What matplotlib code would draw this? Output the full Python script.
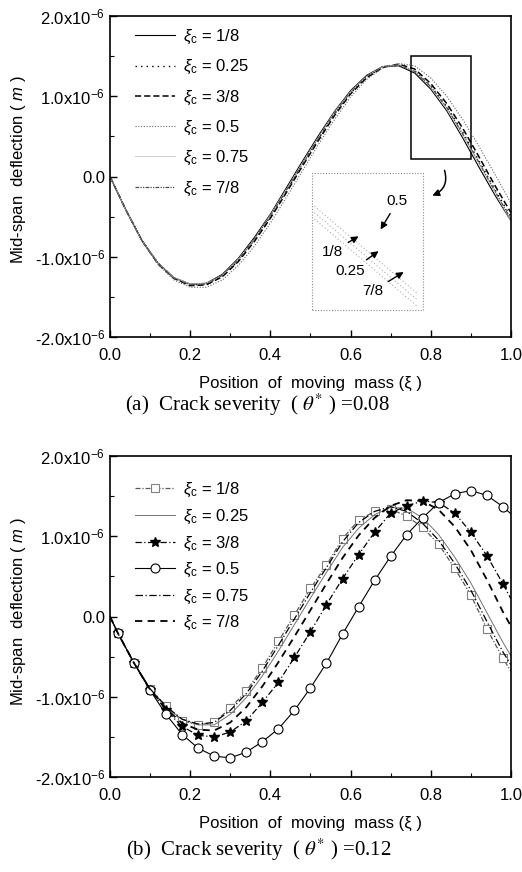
import numpy as np
import matplotlib
matplotlib.use('Agg')
from matplotlib import pyplot as plt
from matplotlib.patches import Rectangle, FancyArrowPatch

plt.rcParams['font.family'] = ['Liberation Sans', 'DejaVu Sans']
plt.rcParams['mathtext.fontset'] = 'custom'
plt.rcParams['mathtext.rm'] = 'Liberation Sans'
plt.rcParams['mathtext.it'] = 'Liberation Sans:italic'

# ---- data (deflection in units of 1e-6 m) ----
labels = ['1/8', '0.25', '3/8', '0.5', '0.75', '7/8']

# (a) crack severity 0.08
xa = [0.00, 0.04, 0.08, 0.12, 0.16, 0.20, 0.24, 0.28, 0.32, 0.36, 0.40, 0.44, 0.48,
      0.52, 0.56, 0.60, 0.64, 0.68, 0.72, 0.76, 0.80, 0.84, 0.88, 0.92, 0.96, 1.00]
a_18 = [0, -0.42, -0.80, -1.08, -1.26, -1.34, -1.33, -1.22, -1.02, -0.76, -0.47, -0.14, 0.19,
        0.51, 0.81, 1.07, 1.26, 1.37, 1.38, 1.29, 1.09, 0.82, 0.48, 0.12, -0.23, -0.55]
a_025 = [0, -0.42, -0.80, -1.08, -1.27, -1.35, -1.34, -1.24, -1.05, -0.79, -0.50, -0.18, 0.15,
         0.47, 0.78, 1.04, 1.24, 1.36, 1.39, 1.32, 1.13, 0.87, 0.55, 0.20, -0.16, -0.50]
a_38 = [0, -0.42, -0.80, -1.09, -1.27, -1.36, -1.35, -1.25, -1.06, -0.81, -0.52, -0.20, 0.13,
        0.45, 0.76, 1.03, 1.23, 1.36, 1.40, 1.34, 1.16, 0.91, 0.60, 0.25, -0.11, -0.45]
a_05 = [0, -0.42, -0.81, -1.10, -1.29, -1.38, -1.38, -1.29, -1.11, -0.87, -0.58, -0.26, 0.07,
        0.40, 0.71, 0.99, 1.21, 1.35, 1.41, 1.38, 1.23, 1.00, 0.71, 0.38, 0.03, -0.33]
a_075 = [0, -0.42, -0.80, -1.08, -1.26, -1.34, -1.33, -1.23, -1.03, -0.78, -0.48, -0.16, 0.17,
         0.49, 0.80, 1.06, 1.25, 1.37, 1.39, 1.31, 1.11, 0.84, 0.51, 0.16, -0.20, -0.55]
a_78 = [0, -0.42, -0.80, -1.08, -1.27, -1.35, -1.34, -1.23, -1.04, -0.78, -0.49, -0.17, 0.16,
        0.48, 0.79, 1.05, 1.25, 1.37, 1.39, 1.31, 1.12, 0.86, 0.53, 0.18, -0.18, -0.53]

# (b) crack severity 0.12
xb = [0.00, 0.02, 0.06, 0.10, 0.14, 0.18, 0.22, 0.26, 0.30, 0.34, 0.38, 0.42, 0.46, 0.50,
      0.54, 0.58, 0.62, 0.66, 0.70, 0.74, 0.78, 0.82, 0.86, 0.90, 0.94, 0.98, 1.00]
b_18 = [0, -0.21, -0.58, -0.90, -1.12, -1.30, -1.35, -1.32, -1.14, -0.93, -0.64, -0.31, 0.02, 0.35,
        0.64, 0.97, 1.20, 1.31, 1.34, 1.25, 1.11, 0.90, 0.60, 0.27, -0.15, -0.52, -0.68]
b_025 = [0, -0.21, -0.58, -0.90, -1.13, -1.28, -1.35, -1.35, -1.22, -1.01, -0.74, -0.43, -0.10, 0.23,
         0.55, 0.86, 1.10, 1.27, 1.36, 1.35, 1.23, 1.02, 0.74, 0.42, 0.05, -0.32, -0.49]
b_38 = [0, -0.21, -0.58, -0.91, -1.17, -1.37, -1.48, -1.50, -1.44, -1.30, -1.07, -0.82, -0.51, -0.19,
        0.15, 0.47, 0.77, 1.05, 1.29, 1.38, 1.44, 1.42, 1.29, 1.05, 0.76, 0.41, 0.22]
b_05 = [0, -0.21, -0.58, -0.92, -1.22, -1.47, -1.64, -1.74, -1.76, -1.69, -1.56, -1.40, -1.17, -0.89,
        -0.58, -0.22, 0.12, 0.45, 0.75, 1.02, 1.23, 1.42, 1.53, 1.57, 1.51, 1.37, 1.28]
b_075 = [0, -0.21, -0.58, -0.90, -1.12, -1.28, -1.34, -1.32, -1.17, -0.96, -0.68, -0.36, -0.03, 0.30,
         0.61, 0.93, 1.17, 1.31, 1.37, 1.31, 1.16, 0.95, 0.66, 0.33, -0.06, -0.44, -0.60]
b_78 = [0, -0.21, -0.58, -0.91, -1.15, -1.33, -1.41, -1.42, -1.32, -1.13, -0.87, -0.57, -0.25, 0.08,
        0.41, 0.73, 1.01, 1.23, 1.38, 1.45, 1.44, 1.33, 1.12, 0.83, 0.46, 0.06, -0.12]

yticks = [-2, -1, 0, 1, 2]
yticklabels = [r'-2.0x10$^{-6}$', r'-1.0x10$^{-6}$', '0.0', r'1.0x10$^{-6}$', r'2.0x10$^{-6}$']
xticks = [0.0, 0.2, 0.4, 0.6, 0.8, 1.0]


def style_axes(ax):
    ax.set_xlim(0, 1)
    ax.set_ylim(-2, 2)
    ax.set_xticks(xticks)
    ax.set_xticklabels(['%.1f' % v for v in xticks])
    ax.set_xticks([0.1, 0.3, 0.5, 0.7, 0.9], minor=True)
    ax.set_yticks(yticks)
    ax.set_yticklabels(yticklabels)
    ax.set_yticks([-1.5, -0.5, 0.5, 1.5], minor=True)
    ax.tick_params(which='both', direction='in', labelsize=12, top=False, right=False)
    ax.tick_params(which='major', length=5, width=1)
    ax.tick_params(axis='x', which='major', pad=8)
    ax.tick_params(which='minor', length=3, width=0.8)
    for s in ax.spines.values():
        s.set_linewidth(1.2)
    ax.set_xlabel('Position  of  moving  mass (ξ )', fontsize=12, labelpad=9)


fig = plt.figure(figsize=(5.22, 8.72), dpi=100)
ax1 = fig.add_axes([0.2107, 0.6135, 0.768, 0.3681])
ax2 = fig.add_axes([0.2107, 0.1089, 0.768, 0.3681])

# ---- panel (a) ----
ax1.plot(xa, a_18, color='black', lw=0.8, label=r'$\xi_\mathrm{c}$ = ' + labels[0])
ax1.plot(xa, a_025, color='black', lw=1.0, dashes=(1, 3), label=r'$\xi_\mathrm{c}$ = ' + labels[1])
ax1.plot(xa, a_38, color='black', lw=1.1, dashes=(4, 2), label=r'$\xi_\mathrm{c}$ = ' + labels[2])
ax1.plot(xa, a_05, color='0.4', lw=0.8, dashes=(1, 1.5), label=r'$\xi_\mathrm{c}$ = ' + labels[3])
ax1.plot(xa, a_075, color='0.78', lw=0.6, label=r'$\xi_\mathrm{c}$ = ' + labels[4])
ax1.plot(xa, a_78, color='0.3', lw=0.9, dashes=(3, 1, 1, 1, 1, 1), label=r'$\xi_\mathrm{c}$ = ' + labels[5])
style_axes(ax1)
ax1.legend(loc='upper left', bbox_to_anchor=(0.062, 0.963), frameon=False, fontsize=12,
           handlelength=2.4, handletextpad=0.5, labelspacing=0.72, borderpad=0, borderaxespad=0)

# zoom box and inset
ax1.add_patch(Rectangle((0.75, 0.22), 0.15, 1.28, fill=False, ec='black', lw=1.1))
ax1.add_patch(Rectangle((0.505, -1.66), 0.275, 1.71, fill=False, ec='0.55', lw=0.8, ls=(0, (1, 1.5))))
for dy in [0.0, -0.08, -0.16]:
    ax1.plot([0.51, 0.765], [-0.37 + dy, -1.45 + dy], color='0.6', lw=0.7, dashes=(1, 2.5))
arr = FancyArrowPatch((0.8325, 0.11), (0.7975, -0.25), connectionstyle='arc3,rad=-0.5',
                      arrowstyle='-|>', mutation_scale=10, color='black', lw=1.1)
ax1.add_patch(arr)
notes = [('0.5', (0.675, -0.66), (0.717, -0.31)),
         ('1/8', (0.62, -0.745), (0.555, -0.94)),
         ('0.25', (0.67, -0.93), (0.60, -1.18)),
         ('7/8', (0.7325, -1.19), (0.655, -1.43))]
for txt, head, pos in notes:
    ax1.annotate(txt, xy=head, xytext=pos, fontsize=11, ha='center', va='center',
                 arrowprops=dict(arrowstyle='-|>', color='black', lw=1.0, mutation_scale=10,
                                 shrinkA=2, shrinkB=0))

# ---- panel (b) ----
mk = slice(1, -1)
ax2.plot(xb, b_18, color='0.35', lw=0.9, dashes=(4, 1.5, 1, 1.5), marker='s', ms=6, mfc='white',
         mec='0.5', mew=0.8, markevery=mk, label=r'$\xi_\mathrm{c}$ = ' + labels[0])
ax2.plot(xb, b_025, color='0.45', lw=0.7, label=r'$\xi_\mathrm{c}$ = ' + labels[1])
ax2.plot(xb, b_38, color='black', lw=0.9, dashes=(5, 2, 1, 2), marker='*', ms=7, mfc='black',
         mec='black', markevery=mk, label=r'$\xi_\mathrm{c}$ = ' + labels[2])
ax2.plot(xb, b_05, color='black', lw=0.8, marker='o', ms=6.5, mfc='white', mec='black', mew=0.8,
         markevery=mk, label=r'$\xi_\mathrm{c}$ = ' + labels[3])
ax2.plot(xb, b_075, color='black', lw=0.9, dashes=(6, 2, 1, 2), label=r'$\xi_\mathrm{c}$ = ' + labels[4])
ax2.plot(xb, b_78, color='black', lw=1.3, dashes=(4, 3), label=r'$\xi_\mathrm{c}$ = ' + labels[5])
style_axes(ax2)
ax2.legend(loc='upper left', bbox_to_anchor=(0.062, 0.922), frameon=False, fontsize=12,
           handlelength=2.4, handletextpad=0.5, labelspacing=0.5, borderpad=0, borderaxespad=0)

# y labels and captions
for yc in [1 - 170 / 872, 1 - 612 / 872]:
    fig.text(0.0345, yc, r'Mid-span  deflection ( $m$ )', rotation=90, ha='center', va='center',
             fontsize=12)
fig.text(0.493, 1 - 405 / 872, r'(a)  Crack severity  ( $\theta^{*}$ ) =0.08', ha='center', va='center',
         fontsize=15, family='Liberation Serif', math_fontfamily='stix')
fig.text(0.495, 1 - 850 / 872, r'(b)  Crack severity  ( $\theta^{*}$ ) =0.12', ha='center', va='center',
         fontsize=15, family='Liberation Serif', math_fontfamily='stix')

fig.savefig('out.png', dpi=100)
